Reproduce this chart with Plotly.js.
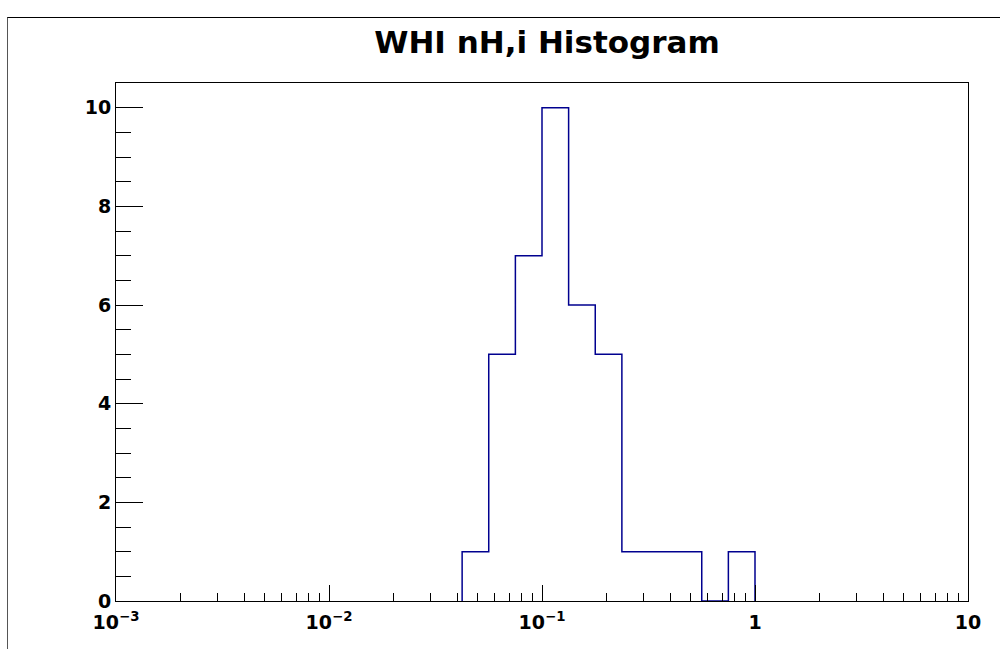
<!DOCTYPE html>
<html>
<head>
<meta charset="utf-8">
<script src="https://cdn.plot.ly/plotly-3.0.1.min.js"></script>
<style>
  html, body { margin: 0; padding: 0; background: #fff; }
  #wrap { position: relative; width: 1000px; height: 649px; overflow: hidden; }
  #chart { position: absolute; left: 0; top: 0; width: 1000px; height: 649px; }
  #frame { position: absolute; left: 7px; top: 17px; width: 1000px; height: 700px;
           border-top: 1px solid #000; border-left: 1px solid #555; pointer-events: none; }
</style>
</head>
<body>
<div id="wrap">
  <div id="chart"></div>
  <div id="frame"></div>
</div>
<script>
// Histogram bins (1/8 decade wide) and their entries
const binEdges = [0.04217, 0.05623, 0.07499, 0.1, 0.13335, 0.17783, 0.23714,
                  0.31623, 0.42170, 0.56234, 0.74989, 1.0];
const binCounts = [1, 5, 7, 10, 6, 5, 1, 1, 1, 0, 1];

// Axis ticks
const xTickVals = [0.001, 0.01, 0.1, 1, 10];
const xTickText = ['10<sup>\u22123</sup>', '10<sup>\u22122</sup>', '10<sup>\u22121</sup>', '1', '10'];
const xMinorMult = [2, 3, 4, 5, 6, 7, 8, 9];
const xMinorDecades = [0.001, 0.01, 0.1, 1];
const yTickVals = [0, 2, 4, 6, 8, 10];
const yTickText = ['0', '2', '4', '6', '8', '10'];

// Outline of the histogram as a step path, closed down to the baseline
const stepX = [binEdges[0]];
const stepY = [0];
for (let i = 0; i < binCounts.length; i++) {
  stepX.push(binEdges[i]);
  stepY.push(binCounts[i]);
}
stepX.push(binEdges[binEdges.length - 1]);
stepY.push(binCounts[binCounts.length - 1]);
stepX.push(binEdges[binEdges.length - 1]);
stepY.push(0);

const xMinorVals = [];
xMinorDecades.forEach(d => xMinorMult.forEach(m => xMinorVals.push(m * d)));

const trace = {
  type: 'scatter',
  mode: 'lines',
  x: stepX,
  y: stepY,
  line: { shape: 'hv', color: '#00008f', width: 1.5 },
  hoverinfo: 'x+y'
};

const tickFont = { family: 'DejaVu Sans, sans-serif', size: 19, color: '#000', weight: 'bold' };

const layout = {
  width: 1000,
  height: 649,
  margin: { l: 116, r: 32, t: 83, b: 48, pad: 0 },
  paper_bgcolor: '#fff',
  plot_bgcolor: '#fff',
  showlegend: false,
  title: {
    text: 'WHI nH,i Histogram',
    font: { family: 'DejaVu Sans, sans-serif', size: 31, color: '#000', weight: 'bold' },
    x: 0.547, xanchor: 'center',
    y: 0.935, yanchor: 'middle'
  },
  xaxis: {
    type: 'log',
    range: [-3, 1],
    tickmode: 'array',
    tickvals: xTickVals,
    ticktext: xTickText,
    ticks: 'inside',
    ticklen: 16,
    tickwidth: 1,
    tickcolor: '#000',
    tickfont: tickFont,
    ticklabelstandoff: 4,
    showgrid: false,
    zeroline: false,
    showline: true,
    linecolor: '#000',
    linewidth: 1,
    mirror: true,
    minor: { tickmode: 'array', tickvals: xMinorVals, ticks: 'inside', ticklen: 8, tickcolor: '#000', tickwidth: 1, showgrid: false }
  },
  yaxis: {
    range: [0, 10.5],
    tickmode: 'array',
    tickvals: yTickVals,
    ticktext: yTickText,
    ticks: 'inside',
    ticklen: 27,
    tickwidth: 1,
    tickcolor: '#000',
    tickfont: tickFont,
    showgrid: false,
    zeroline: false,
    showline: true,
    linecolor: '#000',
    linewidth: 1,
    mirror: true,
    minor: { dtick: 0.5, ticks: 'inside', ticklen: 15, tickcolor: '#000', tickwidth: 1, showgrid: false }
  }
};

Plotly.newPlot('chart', [trace], layout, { staticPlot: true, displayModeBar: false });
</script>
</body>
</html>
